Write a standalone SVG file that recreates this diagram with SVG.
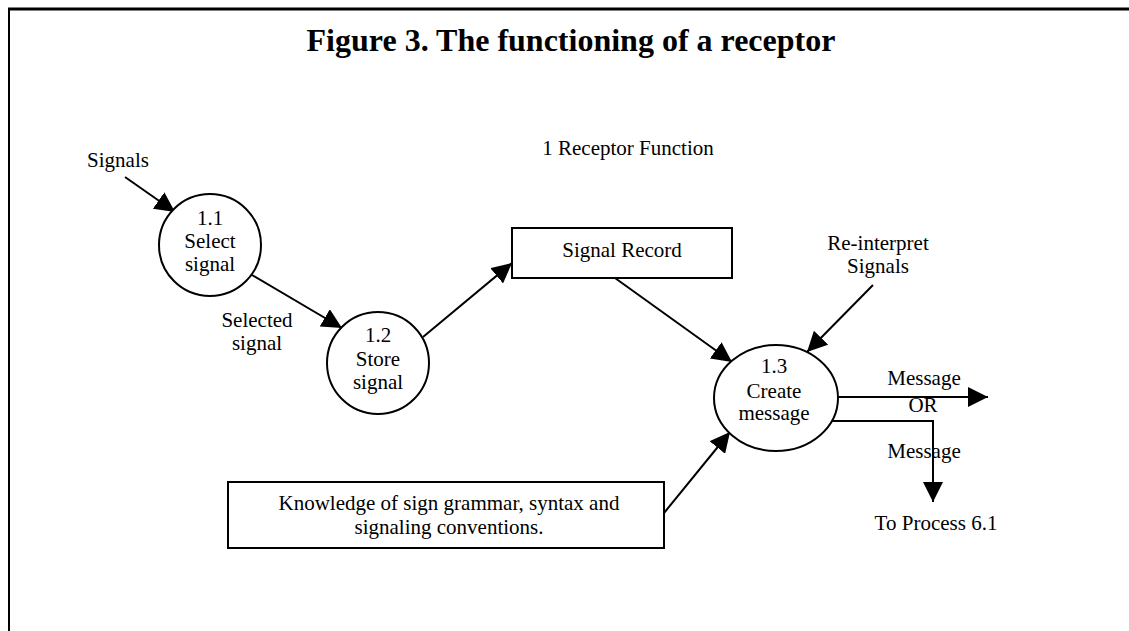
<svg xmlns="http://www.w3.org/2000/svg" width="1129" height="631" viewBox="0 0 1129 631">
<style>
text{font-family:"Liberation Serif","Times New Roman",serif;font-size:21px;fill:#000;text-anchor:middle}
.title{font-size:32px;font-weight:bold}
.shape{fill:#fff;stroke:#000;stroke-width:2}
.conn{fill:none;stroke:#000;stroke-width:2;marker-end:url(#ah)}
</style>
<defs>
<marker id="ah" markerUnits="userSpaceOnUse" markerWidth="20" markerHeight="20" refX="20" refY="10" orient="auto">
<path d="M0,0 L20,10 L0,20 z" fill="#000"/>
</marker>
</defs>
<rect width="1129" height="631" fill="#fff"/>
<g id="frame">
<line x1="8" y1="9" x2="1129" y2="9" stroke="#000" stroke-width="3"/>
<line x1="9" y1="8" x2="9" y2="631" stroke="#000" stroke-width="2"/>
</g>
<text class="title" x="571" y="51">Figure 3. The functioning of a receptor</text>
<text x="628" y="155">1 Receptor Function</text>
<g id="connectors">
<line class="conn" x1="125" y1="177" x2="175" y2="212"/>
<line class="conn" x1="252" y1="275" x2="342" y2="328"/>
<line class="conn" x1="423" y1="337" x2="512" y2="263"/>
<line class="conn" x1="615" y1="278" x2="732" y2="362"/>
<line class="conn" x1="873" y1="285" x2="807" y2="352"/>
<line class="conn" x1="664" y1="513" x2="730" y2="432"/>
<line class="conn" x1="838" y1="397" x2="988" y2="397"/>
<path class="conn" d="M832,421 H933 V502"/>
</g>
<g id="label-signals"><text x="118" y="167">Signals</text></g>
<g id="label-selected"><text x="257" y="327">Selected</text><text x="257" y="350">signal</text></g>
<g id="label-reinterpret"><text x="878" y="250">Re-interpret</text><text x="878" y="273">Signals</text></g>
<g id="label-message1"><text x="924" y="385">Message</text><text x="923" y="412">OR</text></g>
<g id="label-message2"><text x="924" y="458">Message</text></g>
<g id="label-process"><text x="936" y="530">To Process 6.1</text></g>
<g id="p1-1">
<circle class="shape" cx="210" cy="245" r="51"/>
<text x="210" y="225">1.1</text><text x="210" y="248">Select</text><text x="210" y="271">signal</text>
</g>
<g id="p1-2">
<circle class="shape" cx="378" cy="363" r="51"/>
<text x="378" y="342">1.2</text><text x="378" y="366">Store</text><text x="378" y="389">signal</text>
</g>
<g id="p1-3">
<ellipse class="shape" cx="776" cy="398" rx="62" ry="53"/>
<text x="774" y="373">1.3</text><text x="774" y="398">Create</text><text x="774" y="420">message</text>
</g>
<g id="signal-record">
<rect class="shape" x="512" y="228" width="220" height="50"/>
<text x="622" y="257">Signal Record</text>
</g>
<g id="knowledge">
<rect class="shape" x="228" y="482" width="436" height="66"/>
<text x="449" y="510">Knowledge of sign grammar, syntax and</text>
<text x="449" y="534">signaling conventions.</text>
</g>
</svg>
